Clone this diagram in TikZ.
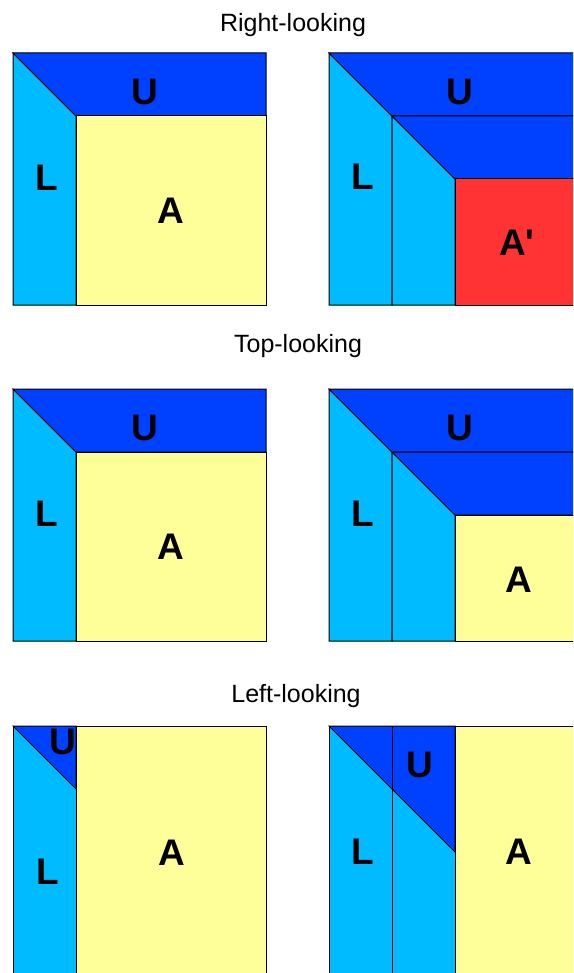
\documentclass[tikz,border=0pt]{standalone}
\usepackage{fontspec}
\setmainfont{Liberation Sans}
\newfontfamily\lblfont{Liberation Sans}
\definecolor{ublue}{RGB}{0,64,255}
\definecolor{lblue}{RGB}{0,187,255}
\definecolor{ayel}{RGB}{255,255,153}
\definecolor{ared}{RGB}{255,51,51}
\begin{document}
\begin{tikzpicture}[x=1pt,y=-1pt,
  blk/.style={draw=black,line width=1pt,line join=miter},
  ttl/.style={anchor=base,inner sep=0pt,font=\fontsize{25}{29}\selectfont},
  lbl/.style={inner sep=0pt,font=\lblfont\fontsize{37}{40}\selectfont\bfseries}]
\useasboundingbox (0,0) rectangle (573,973);
\clip (0,0) rectangle (573,973);
\fill[white] (0,0) rectangle (573,973);

% ---------- Right-looking ----------
\node[ttl] (t1) at (293,32) {Right-looking};
% left
\filldraw[blk,fill=lblue] (13,53) -- (76,116) -- (76,305) -- (13,305) -- cycle;
\filldraw[blk,fill=ublue] (13,53) -- (266,53) -- (266,116) -- (76,116) -- cycle;
\filldraw[blk,fill=ayel] (76,116) rectangle (266,305);
\node[lbl] (u1) at (145,92) {U};
\node[lbl] (l1) at (47,178) {L};
\node[lbl] (a1) at (171,211) {A};
% right
\filldraw[blk,fill=lblue] (329,53) -- (392,116) -- (392,305) -- (329,305) -- cycle;
\filldraw[blk,fill=lblue] (392,116) -- (455,179) -- (455,305) -- (392,305) -- cycle;
\filldraw[blk,fill=ublue] (329,53) -- (582,53) -- (582,116) -- (392,116) -- cycle;
\filldraw[blk,fill=ublue] (392,116) -- (582,116) -- (582,179) -- (455,179) -- cycle;
\filldraw[blk,fill=ared] (455,179) rectangle (582,305);
\node[lbl] (u2) at (460,92) {U};
\node[lbl] (l2) at (363,177) {L};
\node[lbl] (a2) at (517,243) {A'};

% ---------- Top-looking ----------
\node[ttl] (t2) at (298,352) {Top-looking};
\begin{scope}[yshift=-336pt]
\filldraw[blk,fill=lblue] (13,53) -- (76,116) -- (76,305) -- (13,305) -- cycle;
\filldraw[blk,fill=ublue] (13,53) -- (266,53) -- (266,116) -- (76,116) -- cycle;
\filldraw[blk,fill=ayel] (76,116) rectangle (266,305);
\node[lbl] (u3) at (145,92) {U};
\node[lbl] (l3) at (47,178) {L};
\node[lbl] (a3) at (171,211) {A};
\filldraw[blk,fill=lblue] (329,53) -- (392,116) -- (392,305) -- (329,305) -- cycle;
\filldraw[blk,fill=lblue] (392,116) -- (455,179) -- (455,305) -- (392,305) -- cycle;
\filldraw[blk,fill=ublue] (329,53) -- (582,53) -- (582,116) -- (392,116) -- cycle;
\filldraw[blk,fill=ublue] (392,116) -- (582,116) -- (582,179) -- (455,179) -- cycle;
\filldraw[blk,fill=ayel] (455,179) rectangle (582,305);
\node[lbl] (u4) at (460,92) {U};
\node[lbl] (l4) at (363,178) {L};
\node[lbl] (a4) at (519,244) {A};
\end{scope}

% ---------- Left-looking ----------
\node[ttl] (t3) at (296,702) {Left-looking};
% left
\filldraw[blk,fill=lblue] (13,726) rectangle (76,979);
\filldraw[blk,fill=ublue] (13,726) -- (76,726) -- (76,789) -- cycle;
\filldraw[blk,fill=ayel] (76,726) rectangle (266,979);
\node[lbl] (u5) at (63,742) {U};
\node[lbl] (l5) at (48,872) {L};
\node[lbl] (a5) at (172,853) {A};
% right
\filldraw[blk,fill=lblue] (329,726) rectangle (455,979);
\filldraw[blk,fill=ublue] (329,726) -- (455,726) -- (455,852) -- cycle;
\draw[blk] (392,726) -- (392,979);
\filldraw[blk,fill=ayel] (455,726) rectangle (582,979);
\node[lbl] (u6) at (420,765) {U};
\node[lbl] (l6) at (363,852) {L};
\node[lbl] (a6) at (519,852) {A};
\end{tikzpicture}
\end{document}
